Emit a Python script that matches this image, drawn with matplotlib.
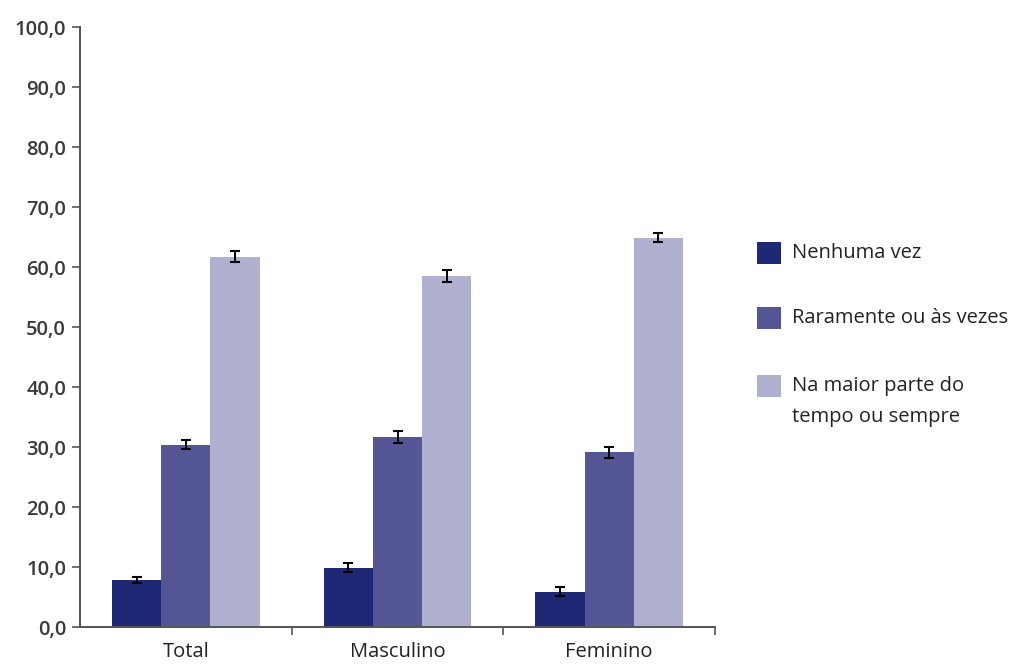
import matplotlib
matplotlib.use("Agg")
import matplotlib.pyplot as plt
import numpy as np
from matplotlib.patches import Rectangle

categories = ["Total", "Masculino", "Feminino"]
series_names = ["Nenhuma vez", "Raramente ou às vezes", "Na maior parte do\ntempo ou sempre"]
nenhuma = [7.8, 9.9, 5.9]
raramente = [30.4, 31.6, 29.1]
maior_parte = [61.7, 58.5, 64.9]
err_nenhuma = [0.5, 0.8, 0.7]
err_raramente = [0.8, 1.0, 0.9]
err_maior = [0.9, 1.0, 0.8]
yticks = [0, 10, 20, 30, 40, 50, 60, 70, 80, 90, 100]

colors = ["#1e2875", "#535692", "#b0b1d0"]
values = [nenhuma, raramente, maior_parte]
errors = [err_nenhuma, err_raramente, err_maior]

plt.rcParams['font.family'] = ['Open Sans', 'DejaVu Sans']

W, H = 1021, 664
fig = plt.figure(figsize=(W / 100, H / 100), dpi=100)
ax = fig.add_axes([80 / W, 37 / H, (715 - 80) / W, (627 - 27) / H])

x = np.arange(len(categories))
w = 0.233
for i, (vals, errs, c) in enumerate(zip(values, errors, colors)):
    pos = x + (i - 1) * w
    ax.bar(pos, vals, width=w, color=c, edgecolor='none', label=series_names[i], zorder=2)
    ax.errorbar(pos, vals, yerr=errs, fmt='none', ecolor='black', elinewidth=1.4,
                capsize=3.3, capthick=1.5, zorder=3)

ax.set_xlim(-0.5, 2.5)
ax.set_ylim(0, 100)
ax.set_yticks(yticks)
ax.set_yticklabels([f"{v:.1f}".replace('.', ',') for v in yticks])
ax.set_xticks([0.5, 1.5, 2.5])
ax.set_xticklabels([])
ax.set_xticks(x, minor=True)
ax.set_xticklabels(categories, minor=True)
ax.tick_params(axis='x', which='minor', length=0, pad=11, labelsize=14.5, colors='#222222')
ax.tick_params(axis='x', which='major', length=6, width=1.2, color='#555555', direction='out')
ax.tick_params(axis='y', length=6, width=1.2, color='#555555', direction='out', labelsize=14.5,
               labelcolor='#3a3a3a', pad=4)
for lab in ax.get_yticklabels():
    lab.set_fontweight('semibold')
for s in ['top', 'right']:
    ax.spines[s].set_visible(False)
for s in ['left', 'bottom']:
    ax.spines[s].set_color('#555555')
    ax.spines[s].set_linewidth(1.4)

# legend drawn manually to match the reference alignment
centers = [253, 318, 386]
for name, c, yc in zip(series_names, colors, centers):
    fig.patches.append(Rectangle((757 / W, (H - yc - 11) / H), 24 / W, 22 / H,
                                 transform=fig.transFigure, facecolor=c, edgecolor='none'))
    fig.text(792 / W, (H - yc + 10) / H, name, ha='left', va='top', fontsize=14.5,
             color='#222222', linespacing=1.75)

fig.savefig("out.png", dpi=100, facecolor='white')
